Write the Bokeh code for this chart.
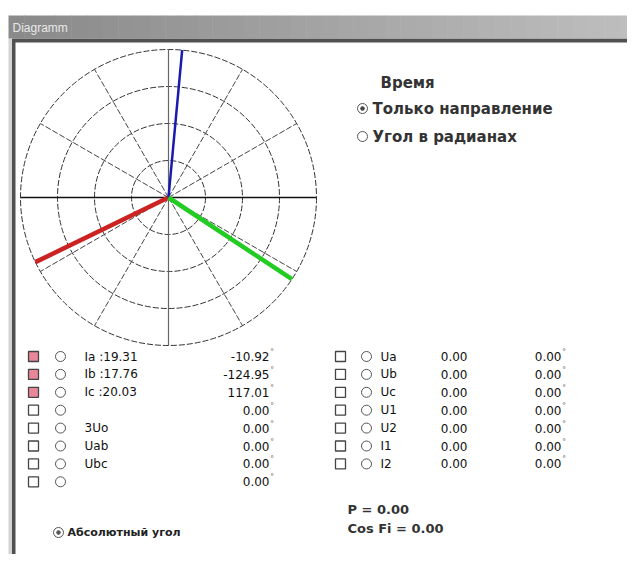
import numpy as np
from bokeh.plotting import figure
from bokeh.models import Range1d
from bokeh.core.properties import value
from bokeh.embed import file_html
from bokeh.resources import INLINE

# ---------------- data ----------------
ring_levels = [1, 2, 3, 4]
spoke_angles_deg = [30, 60, 120, 150, 210, 240, 300, 330]
vector_names = ["Ia", "Ib", "Ic"]
vector_display_deg = [-154.1, 84.7, -33.5]      # drawn direction (only direction mode)
vector_colors = ["#cc2222", "#1a1ab0", "#22cc22"]
vector_widths = [4.5, 2.5, 4.5]

left_labels = ["Ia :19.31", "Ib :17.76", "Ic :20.03", "", "3Uo", "Uab", "Ubc", ""]
left_angles = ["-10.92", "-124.95", "117.01", "0.00", "0.00", "0.00", "0.00", "0.00"]
left_checked = [True, True, True, False, False, False, False, False]

right_labels = ["Ua", "Ub", "Uc", "U1", "U2", "I1", "I2"]
right_values = ["0.00", "0.00", "0.00", "0.00", "0.00", "0.00", "0.00"]
right_angles = ["0.00", "0.00", "0.00", "0.00", "0.00", "0.00", "0.00"]

p_value = "0.00"
cosfi_value = "0.00"

FONT = value("Liberation Sans")
WIDE = value("DejaVu Sans")

# ---------------- figure in picture-pixel coordinates ----------------
W, H = 627, 554
p = figure(width=W, height=H, output_backend="svg", toolbar_location=None,
           x_range=Range1d(0, W), y_range=Range1d(H, 0),
           min_border=0, outline_line_color=None)
p.axis.visible = False
p.grid.visible = False
p.background_fill_color = "white"
p.border_fill_color = "white"

# window frame
p.quad(left=[8], right=[640], top=[38], bottom=[570], fill_color="#d4d4d4", line_color=None)
p.quad(left=[11.5], right=[640], top=[38], bottom=[559], fill_color="#505050", line_color=None)
p.quad(left=[15], right=[640], top=[42], bottom=[558], fill_color="white", line_color=None)

# title bar gradient
n = 40
xs = np.linspace(8, 635, n + 1)
grays = np.linspace(0x8a, 0xbe, n).astype(int)
p.quad(left=xs[:-1], right=xs[1:] + 0.5, top=[15] * n, bottom=[38] * n,
       fill_color=["#%02x%02x%02x" % (g, g, g) for g in grays], line_color=None)
p.text(x=[12], y=[27], text=["Diagramm"], text_font=FONT, text_font_size="12px",
       text_color="#e8e8e8", text_baseline="middle")

# ---------------- polar diagram ----------------
cx, cy, R = 168, 197, 148
unit = R / max(ring_levels)
p.circle(x=[cx] * len(ring_levels), y=[cy] * len(ring_levels),
         radius=[lv * unit for lv in ring_levels], fill_color=None,
         line_color="#333333", line_width=1, line_dash="6 2")
sa = np.radians(spoke_angles_deg)
p.segment(x0=[cx] * len(sa), y0=[cy] * len(sa), x1=cx + R * np.cos(sa), y1=cy - R * np.sin(sa),
          line_color="#444444", line_width=1, line_dash="6 2")
p.segment(x0=[cx - R], y0=[cy], x1=[cx + R], y1=[cy], line_color="#111111", line_width=1.3)
p.segment(x0=[cx], y0=[cy - R], x1=[cx], y1=[cy + R], line_color="#666666", line_width=1.2)

va = np.radians(vector_display_deg)
p.segment(x0=[cx] * 3, y0=[cy] * 3, x1=cx + R * np.cos(va), y1=cy - R * np.sin(va),
          line_color=vector_colors, line_width=vector_widths)

# ---------------- right options ----------------
p.text(x=[380], y=[82], text=["Время"], text_font=WIDE, text_font_size="15px",
       text_font_style="bold", text_color="#333333", text_baseline="middle")
p.scatter(x=[362, 362], y=[108, 136], size=10, marker="circle", fill_color="white",
          line_color="#555555", line_width=1)
p.scatter(x=[362], y=[108], size=4.5, marker="circle", fill_color="#444444", line_color=None)
p.text(x=[372, 372], y=[108, 136], text=["Только направление", "Угол в радианах"],
       text_font=WIDE, text_font_size="15px", text_font_style="bold",
       text_color="#333333", text_baseline="middle")

# ---------------- left table ----------------
row0, dy = 356, 17.9
ly = [row0 + i * dy for i in range(len(left_labels))]
p.rect(x=[33] * len(ly), y=ly, width=10, height=10,
       fill_color=["#e8869a" if c else "white" for c in left_checked],
       line_color="#444444", line_width=1.3)
p.scatter(x=[60] * len(ly), y=ly, size=10, marker="circle", fill_color="white",
          line_color="#555555", line_width=1)
p.text(x=[84] * len(ly), y=ly, text=left_labels, text_font=WIDE, text_font_size="12px",
       text_color="#111111", text_baseline="middle")
p.text(x=[269] * len(ly), y=ly, text=left_angles, text_font=WIDE, text_font_size="12px",
       text_color="#111111", text_baseline="middle", text_align="right")
p.text(x=[270] * len(ly), y=[v - 5 for v in ly], text=["°"] * len(ly), text_font=FONT,
       text_font_size="8px", text_color="#333333", text_baseline="middle")

# absolute angle radio
p.scatter(x=[58], y=[532], size=10, marker="circle", fill_color="white",
          line_color="#555555", line_width=1)
p.scatter(x=[58], y=[532], size=4.5, marker="circle", fill_color="#555555", line_color=None)
p.text(x=[67], y=[532], text=["Абсолютный угол"], text_font=WIDE, text_font_size="11px",
       text_font_style="bold", text_color="#222222", text_baseline="middle")

# ---------------- right table ----------------
ry = [row0 + i * dy for i in range(len(right_labels))]
p.rect(x=[340] * len(ry), y=ry, width=10, height=10, fill_color="white",
       line_color="#444444", line_width=1.3)
p.scatter(x=[366] * len(ry), y=ry, size=10, marker="circle", fill_color="white",
          line_color="#555555", line_width=1)
p.text(x=[380] * len(ry), y=ry, text=right_labels, text_font=WIDE, text_font_size="12px",
       text_color="#111111", text_baseline="middle")
p.text(x=[467] * len(ry), y=ry, text=right_values, text_font=WIDE, text_font_size="12px",
       text_color="#111111", text_baseline="middle", text_align="right")
p.text(x=[561] * len(ry), y=ry, text=right_angles, text_font=WIDE, text_font_size="12px",
       text_color="#111111", text_baseline="middle", text_align="right")
p.text(x=[562] * len(ry), y=[v - 5 for v in ry], text=["°"] * len(ry), text_font=FONT,
       text_font_size="8px", text_color="#333333", text_baseline="middle")

p.text(x=[347, 347], y=[509, 528], text=["P = " + p_value, "Cos Fi = " + cosfi_value],
       text_font=WIDE, text_font_size="13px", text_font_style="bold",
       text_color="#333333", text_baseline="middle")

open("out.html", "w").write(file_html(p, INLINE))
